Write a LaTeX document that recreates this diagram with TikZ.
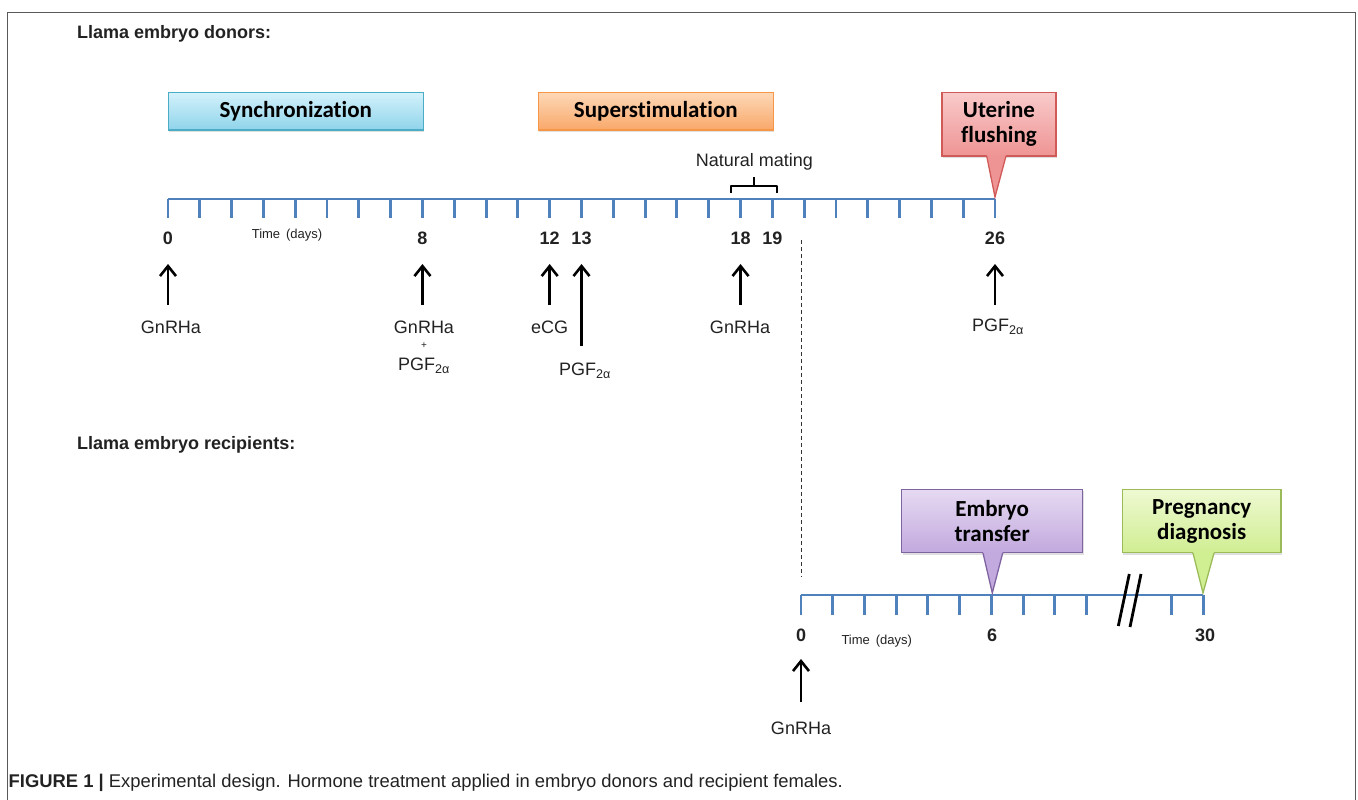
\documentclass[tikz,border=0pt]{standalone}
\usepackage{fontspec}
\setmainfont{Liberation Sans}
\newfontfamily\boxfont[Ligatures=NoCommon]{Carlito}
\usetikzlibrary{arrows.meta,shadows}
\definecolor{tlblue}{HTML}{4F81BD}
\definecolor{syncT}{HTML}{D3F1FB}
\definecolor{syncB}{HTML}{8FD4EB}
\definecolor{syncD}{HTML}{4BACC6}
\definecolor{supT}{HTML}{FDD8B6}
\definecolor{supB}{HTML}{F9A86A}
\definecolor{supD}{HTML}{F79646}
\definecolor{uteT}{HTML}{F9CACA}
\definecolor{uteB}{HTML}{EF9494}
\definecolor{uteD}{HTML}{D05A57}
\definecolor{embT}{HTML}{E6DAF2}
\definecolor{embB}{HTML}{C2A9DE}
\definecolor{embD}{HTML}{8064A2}
\definecolor{preT}{HTML}{EEF9D2}
\definecolor{preB}{HTML}{D0EE92}
\definecolor{preD}{HTML}{9BBB59}
\definecolor{txt}{HTML}{222222}
\begin{document}
\begin{tikzpicture}[x=1pt,y=-1pt,
  tl/.style={draw=tlblue,line width=2.9pt},
  num/.style={font=\fontsize{18}{20}\selectfont\bfseries,inner sep=0pt,text=txt},
  lab/.style={font=\fontsize{18}{20}\selectfont,inner sep=0pt,text=txt},
  tim/.style={font=\fontsize{13}{15}\selectfont,inner sep=0pt,text=txt},
  head/.style={font=\fontsize{18}{20}\selectfont\bfseries,inner sep=0pt,anchor=west,text=txt},
  harrow/.style={-{Straight Barb[length=10pt,width=16pt,line width=2.6pt]},line width=2.7pt,draw=black},
  phase/.style={draw,line width=1.3pt,font=\boxfont\fontsize{23}{24}\selectfont\bfseries,
    align=center,inner sep=0pt,text=black,
    drop shadow={opacity=0.25,shadow xshift=1pt,shadow yshift=-2pt}},
  callout/.style={line width=1.3pt},
]
\useasboundingbox (0,0) rectangle (1358,800);
% frame
\draw[gray!70!black,line width=1.3pt] (7.5,800) -- (7.5,12.5) -- (1355.5,12.5) -- (1355.5,800);

% headings
\node[head] (hdon) at (77,34) {Llama embryo donors:};
\node[head] (hrec) at (77,445) {Llama embryo recipients:};

% ---------------- donor timeline
\pgfmathsetmacro{\dx}{(995-168)/26}
\coordinate (dstart) at (168,199);
\coordinate (dend) at (995,199);
\foreach \i in {0,...,26}{
  \draw[tl] (168+\i*\dx,199) -- ++(0,19);
}
\draw[tl] (dstart) -- (dend);

% phase boxes
\node[phase,top color=syncT,bottom color=syncB,draw=syncD,minimum width=255pt,minimum height=37.5pt] (sync) at (295.8,111.3) {Synchronization};
\node[phase,top color=supT,bottom color=supB,draw=supD,minimum width=235pt,minimum height=37.5pt] (sup) at (655.8,111.3) {Superstimulation};
\node[phase,top color=uteT,bottom color=uteB,draw=uteD,minimum width=114pt,minimum height=63.5pt] (ute) at (999,124.2) {Uterine\\[1pt]flushing};
\fill[uteB] (986.7,155.2) -- (995,197) -- (1006,155.2) -- cycle;
\draw[callout,uteD] (986.7,156) -- (995,197) -- (1006,156);

% natural mating
\node[lab] (nm) at (754.5,162) {Natural mating};
\draw[line width=2.9pt,line join=round] (731,193) -- (731,186) -- (777,186) -- (777,193);
\draw[line width=2.9pt] (754,186) -- (754,177);

% day numbers
\foreach \d/\n in {0/d0,8/d8,12/d12,13/d13,18/d18,19/d19,26/d26}{
  \node[num] (\n) at (168+\d*\dx,238.5) {\d};
}
\node[tim] (tdon) at (287,235) {Time\hspace{0.45em}(days)};

% hormone arrows
\foreach \d/\n/\b in {0/a0/305,8/a8/305,12/a12/305,13/a13/346,18/a18/305,26/a26/305}{
  \coordinate (\n b) at (168+\d*\dx,\b);
  \coordinate (\n t) at (168+\d*\dx,264);
  \draw[harrow] (\n b) -- (\n t);
}
\node[lab] (g0) at (171,327) {GnRHa};
\node[lab] (g8) at (424,327) {GnRHa};
\node[font=\fontsize{10}{10}\selectfont,inner sep=0pt,text=txt] (plus8) at (424,346) {+};
\node[lab] (p8) at (424,366) {PGF\textsubscript{2α}};
\node[lab] (e12) at (549.7,327) {eCG};
\node[lab] (p13) at (585,371) {PGF\textsubscript{2α}};
\node[lab] (g18) at (740,327) {GnRHa};
\node[lab] (p26) at (998,327) {PGF\textsubscript{2α}};

% dashed link
\coordinate (dash1) at (801.5,240);
\coordinate (dash2) at (801.5,577);
\draw[gray!40!black,line width=1.8pt,dash pattern=on 4pt off 3pt] (dash1) -- (dash2);

% ---------------- recipient timeline
\pgfmathsetmacro{\rx}{31.72}
\coordinate (rstart) at (801,595);
\coordinate (rend) at (1203.3,595);
\foreach \i in {0,...,9}{
  \draw[tl] (801+\i*\rx,595) -- ++(0,19.5);
}
\draw[tl] (1171.6,595) -- ++(0,19.5);
\draw[tl] (1203.3,595) -- ++(0,19.5);
\draw[tl] (rstart) -- (rend);
% break marks
\coordinate (bk1a) at (1118.3,626);
\coordinate (bk1b) at (1129.3,574);
\coordinate (bk2a) at (1130,627);
\coordinate (bk2b) at (1141,574);
\draw[line width=2.8pt] (bk1a) -- (bk1b);
\draw[line width=2.8pt] (bk2a) -- (bk2b);

\node[phase,top color=embT,bottom color=embB,draw=embD,minimum width=181pt,minimum height=63.4pt] (emb) at (992.2,521) {Embryo\\[1pt]transfer};
\fill[embB] (983,552.2) -- (992.3,593) -- (1002.7,552.2) -- cycle;
\draw[callout,embD] (983,553) -- (992.3,593) -- (1002.7,553);
\node[phase,top color=preT,bottom color=preB,draw=preD,minimum width=158.7pt,minimum height=63.4pt] (pre) at (1201.7,521) {Pregnancy\\[1pt]diagnosis};
\fill[preB] (1193,552.2) -- (1203,593) -- (1214,552.2) -- cycle;
\draw[callout,preD] (1193,553) -- (1203,593) -- (1214,553);

\node[num] (r0) at (801,635) {0};
\node[num] (r6) at (992,635) {6};
\node[num] (r30) at (1205,635) {30};
\node[tim] (trec) at (876.7,641.5) {Time\hspace{0.45em}(days)};
\coordinate (ar0b) at (801,702);
\coordinate (ar0t) at (801,659);
\draw[harrow] (ar0b) -- (ar0t);
\node[lab] (gr0) at (801,728) {GnRHa};

% caption
\node[anchor=west,inner sep=0pt,font=\fontsize{18.4}{20}\selectfont,text=txt] (cap) at (8.5,783)
  {\textbf{FIGURE 1 |} Experimental design. Hormone treatment applied in embryo donors and recipient females.};
\end{tikzpicture}
\end{document}
